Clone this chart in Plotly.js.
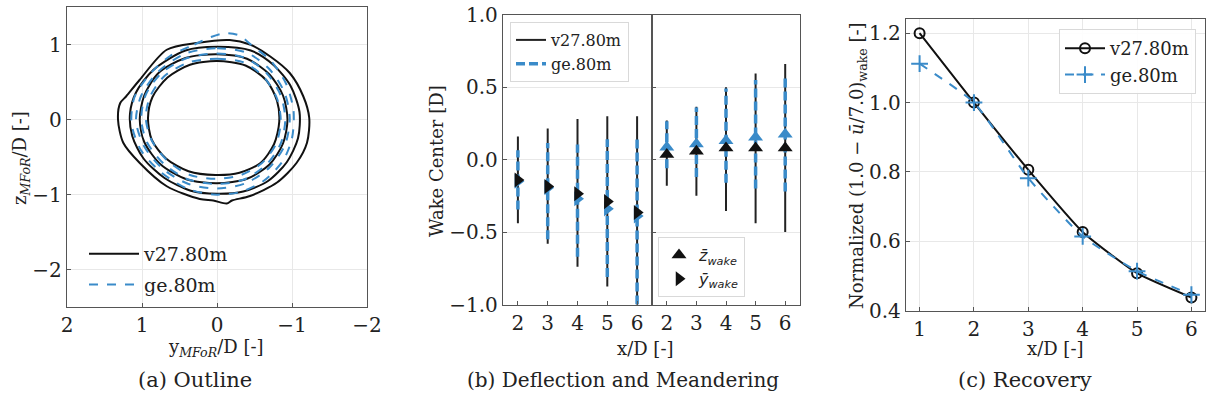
<!DOCTYPE html>
<html><head><meta charset="utf-8">
<script src="https://cdn.plot.ly/plotly-3.0.1.min.js"></script>
<style>html,body{margin:0;padding:0;background:#fff}#chart{width:1208px;height:405px}</style>
</head><body><div id="chart"></div>
<script>
// ---------- (a) Outline: wake contour points (y_MFoR/D, z_MFoR/D) ----------
const v27C1Y = [0.27,-0.17,-0.44,-0.71,-0.97,-1.15,-1.23,-1.20,-1.06,-0.80,-0.44,-0.20,-0.13,0.05,0.23,0.67,1.03,1.25,1.32,1.29,1.21,1.03,0.67];
const v27C1Z = [1.02,1.06,1.00,0.84,0.62,0.31,0.02,-0.31,-0.58,-0.84,-1.02,-1.08,-1.12,-1.08,-1.06,-0.89,-0.58,-0.31,0.00,0.22,0.31,0.53,0.93];
const v27C2Y = [0.42,0.00,-0.45,-0.75,-0.98,-1.10,-1.08,-0.93,-0.68,-0.35,0.00,0.35,0.70,0.98,1.13,1.16,1.08,0.85];
const v27C2Z = [0.92,0.97,0.92,0.73,0.45,0.10,-0.25,-0.57,-0.82,-0.96,-0.99,-0.95,-0.78,-0.52,-0.22,0.08,0.36,0.66];
const v27C3Y = [0.42,0.00,-0.40,-0.70,-0.88,-0.94,-0.88,-0.70,-0.40,0.00,0.40,0.75,0.97,1.03,0.97,0.78];
const v27C3Z = [0.82,0.87,0.81,0.60,0.32,0.00,-0.32,-0.60,-0.79,-0.85,-0.80,-0.60,-0.30,0.00,0.32,0.62];
const v27C4Y = [0.36,0.00,-0.38,-0.66,-0.80,-0.83,-0.76,-0.58,-0.30,0.02,0.38,0.68,0.87,0.92,0.86,0.66];
const v27C4Z = [0.73,0.78,0.72,0.52,0.25,-0.03,-0.33,-0.58,-0.71,-0.74,-0.69,-0.52,-0.27,0.02,0.30,0.56];
const geC1Y = [0.62,0.30,0.08,-0.10,-0.30,-0.45,-0.72,-0.92,-1.02,-1.00,-0.88,-0.62,-0.30,0.05,0.40,0.75,1.02,1.14,1.10,0.90];
const geC1Z = [0.85,1.00,1.10,1.15,1.12,1.00,0.78,0.48,0.12,-0.25,-0.55,-0.82,-0.97,-1.00,-0.92,-0.70,-0.40,-0.05,0.30,0.60];
const geC2Y = [0.42,0.00,-0.40,-0.70,-0.90,-0.97,-0.91,-0.70,-0.38,0.00,0.38,0.72,0.97,1.08,1.01,0.78];
const geC2Z = [0.88,0.95,0.89,0.67,0.36,0.02,-0.33,-0.64,-0.85,-0.92,-0.86,-0.66,-0.36,-0.02,0.32,0.64];
const geC3Y = [0.40,0.00,-0.38,-0.66,-0.85,-0.91,-0.85,-0.66,-0.36,0.00,0.38,0.70,0.93,1.01,0.95,0.74];
const geC3Z = [0.82,0.88,0.82,0.62,0.32,0.00,-0.32,-0.60,-0.80,-0.86,-0.80,-0.60,-0.31,0.00,0.33,0.62];
const geC4Y = [0.38,0.00,-0.36,-0.63,-0.80,-0.85,-0.79,-0.60,-0.32,0.02,0.36,0.66,0.87,0.95,0.89,0.70];
const geC4Z = [0.76,0.81,0.76,0.56,0.28,-0.02,-0.32,-0.58,-0.74,-0.79,-0.74,-0.55,-0.28,0.02,0.31,0.58];

// ---------- (b) Deflection and meandering ----------
const xD = [2,3,4,5,6];
// lateral (y) wake centre, with meandering extent
const v27Y    = [-0.14,-0.185,-0.235,-0.29,-0.365];
const v27YHi  = [0.16,0.215,0.28,0.30,0.30];
const v27YLo  = [-0.44,-0.58,-0.74,-0.875,-1.02];
const geY     = [-0.15,-0.195,-0.27,-0.34,-0.39];
const geYHi   = [0.065,0.115,0.105,0.14,0.14];
const geYLo   = [-0.345,-0.55,-0.67,-0.81,-1.0];
// vertical (z) wake centre
const v27Z    = [0.035,0.057,0.08,0.08,0.08];
const v27ZHi  = [0.27,0.365,0.50,0.595,0.66];
const v27ZLo  = [-0.18,-0.25,-0.355,-0.44,-0.50];
const geZ     = [0.085,0.108,0.13,0.155,0.175];
const geZHi   = [0.265,0.36,0.49,0.55,0.58];
const geZLo   = [-0.06,-0.12,-0.16,-0.20,-0.22];

// ---------- (c) Recovery ----------
const xRec = [1,2,3,4,5,6];
const v27Rec = [1.20,1.00,0.806,0.627,0.508,0.438];
const geRec  = [1.112,1.00,0.782,0.614,0.514,0.446];

const BLACK = '#111111';
const BLUE = '#3a8bc9';
const W = 1208, H = 405;
const fx = p => p / W;
const fy = p => 1 - p / H;
const close = a => a.concat([a[0]]);

function segs(xs, lo, hi) {
  const X = [], Y = [];
  xs.forEach((x, i) => { X.push(x, x, null); Y.push(lo[i], hi[i], null); });
  return {x: X, y: Y};
}

const traces = [];
// (a) contours
[[v27C1Y,v27C1Z],[v27C2Y,v27C2Z],[v27C3Y,v27C3Z],[v27C4Y,v27C4Z]].forEach((c, i) => {
  traces.push({type:'scatter', mode:'lines', x: close(c[0]), y: close(c[1]), xaxis:'x', yaxis:'y',
    line:{color:BLACK, width:2, shape:'spline', smoothing:0.8},
    name:'v27.80m', legend:'legend3', showlegend: i === 0, legendgroup:'av27'});
});
[[geC1Y,geC1Z],[geC2Y,geC2Z],[geC3Y,geC3Z],[geC4Y,geC4Z]].forEach((c, i) => {
  traces.push({type:'scatter', mode:'lines', x: close(c[0]), y: close(c[1]), xaxis:'x', yaxis:'y',
    line:{color:BLUE, width:2, dash:'dash', shape:'spline', smoothing:0.8},
    name:'ge.80m', legend:'legend3', showlegend: i === 0, legendgroup:'age'});
});

// (b) left: y_wake
let s = segs(xD, v27YLo, v27YHi);
traces.push({type:'scatter', mode:'lines', x:s.x, y:s.y, xaxis:'x2', yaxis:'y2',
  line:{color:'#222', width:2}, name:'v27.80m', legend:'legend', legendrank:1});
s = segs(xD, geYLo, geYHi);
traces.push({type:'scatter', mode:'lines', x:s.x, y:s.y, xaxis:'x2', yaxis:'y2',
  line:{color:BLUE, width:3.5, dash:'9px,4px'}, name:'ge.80m', legend:'legend', legendrank:2});
// (b) right: z_wake
s = segs(xD, v27ZLo, v27ZHi);
traces.push({type:'scatter', mode:'lines', x:s.x, y:s.y, xaxis:'x3', yaxis:'y3',
  line:{color:'#222', width:2}, showlegend:false});
s = segs(xD, geZLo, geZHi);
traces.push({type:'scatter', mode:'lines', x:s.x, y:s.y, xaxis:'x3', yaxis:'y3',
  line:{color:BLUE, width:3.5, dash:'9px,4px'}, showlegend:false});
// markers
traces.push({type:'scatter', mode:'markers', x:xD, y:geY, xaxis:'x2', yaxis:'y2',
  marker:{symbol:'triangle-right', size:13, color:BLUE}, showlegend:false});
traces.push({type:'scatter', mode:'markers', x:xD, y:geZ, xaxis:'x3', yaxis:'y3',
  marker:{symbol:'triangle-up', size:13, color:BLUE}, showlegend:false});
traces.push({type:'scatter', mode:'markers', x:xD, y:v27Z, xaxis:'x3', yaxis:'y3',
  marker:{symbol:'triangle-up', size:13, color:BLACK},
  name:'<i>z̄</i><sub><i>wake</i></sub>', legend:'legend2', legendrank:1});
traces.push({type:'scatter', mode:'markers', x:xD, y:v27Y, xaxis:'x2', yaxis:'y2',
  marker:{symbol:'triangle-right', size:13, color:BLACK},
  name:'<i>ȳ</i><sub><i>wake</i></sub>', legend:'legend2', legendrank:2});

// (c) recovery
traces.push({type:'scatter', mode:'lines+markers', x:xRec, y:v27Rec, xaxis:'x4', yaxis:'y4',
  line:{color:BLACK, width:2, shape:'spline', smoothing:0.5},
  marker:{symbol:'circle-open', size:10, color:BLACK, line:{width:2}},
  name:'v27.80m', legend:'legend4'});
traces.push({type:'scatter', mode:'lines+markers', x:xRec, y:geRec, xaxis:'x4', yaxis:'y4',
  line:{color:BLUE, width:2, dash:'dash', shape:'spline', smoothing:0.5},
  marker:{symbol:'cross-thin-open', size:12, color:BLUE, line:{width:2, color:BLUE}},
  name:'ge.80m', legend:'legend4'});

const TF = {family:'DejaVu Serif', size:20, color:'#222'};
const common = {showline:true, mirror:true, linecolor:'#555', linewidth:1.2, zeroline:false,
  ticks:'inside', ticklen:4, tickcolor:'#555', tickfont:TF, gridcolor:'#e8e8e8', gridwidth:1};

function ann(text, px, py, size, angle) {
  return {text:text, x:fx(px), y:fy(py), xref:'paper', yref:'paper', xanchor:'center', yanchor:'middle',
    textangle:angle || 0, showarrow:false, font:{family:'DejaVu Serif', size:size, color:'#222'}};
}

const layout = {
  width:W, height:H, margin:{l:0,r:0,t:0,b:0}, paper_bgcolor:'#fff', plot_bgcolor:'#fff',
  font:{family:'DejaVu Serif', color:'#222'},
  xaxis: Object.assign({}, common, {domain:[fx(67),fx(367)], range:[2,-2], tickvals:[2,1,0,-1,-2], anchor:'y', showgrid:true}),
  yaxis: Object.assign({}, common, {domain:[fy(307),fy(7)], range:[-2.5,1.5], tickvals:[1,0,-1,-2], anchor:'x', showgrid:true}),
  xaxis2: Object.assign({}, common, {domain:[fx(503),fx(652)], range:[1.5,6.5], tickvals:xD, anchor:'y2', showgrid:false}),
  yaxis2: Object.assign({}, common, {domain:[fy(304.5),fy(14.7)], range:[-1,1], tickvals:[-1,-0.5,0,0.5,1], tickformat:'.1f', anchor:'x2', showgrid:true}),
  xaxis3: Object.assign({}, common, {domain:[fx(652),fx(800)], range:[1.5,6.5], tickvals:xD, anchor:'y3', showgrid:false}),
  yaxis3: Object.assign({}, common, {domain:[fy(304.5),fy(14.7)], range:[-1,1], tickvals:[-1,-0.5,0,0.5,1], showticklabels:false, anchor:'x3', showgrid:true}),
  xaxis4: Object.assign({}, common, {domain:[fx(906),fx(1205)], range:[0.75,6.25], tickvals:xRec, anchor:'y4', showgrid:true}),
  yaxis4: Object.assign({}, common, {domain:[fy(310.7),fy(19.3)], range:[0.4,1.24], tickvals:[0.4,0.6,0.8,1.0,1.2], tickformat:'.1f', anchor:'x4', showgrid:true}),
  legend: {x:fx(510), y:fy(22), xanchor:'left', yanchor:'top', bgcolor:'rgba(255,255,255,0.9)', bordercolor:'#d9d9d9', borderwidth:1,
    font:{family:'DejaVu Serif', size:16, color:'#222'}, itemwidth:30, tracegroupgap:0},
  legend2: {x:fx(658), y:fy(237), xanchor:'left', yanchor:'top', bgcolor:'rgba(255,255,255,0.9)', bordercolor:'#d9d9d9', borderwidth:1,
    font:{family:'DejaVu Sans', size:16, color:'#222'}, itemwidth:30, tracegroupgap:0},
  legend3: {x:fx(84), y:fy(235), xanchor:'left', yanchor:'top', bgcolor:'rgba(255,255,255,0)', borderwidth:0,
    font:{family:'DejaVu Serif', size:19, color:'#222'}, itemwidth:50, tracegroupgap:3},
  legend4: {x:fx(1059), y:fy(29), xanchor:'left', yanchor:'top', bgcolor:'rgba(255,255,255,0.9)', bordercolor:'#d9d9d9', borderwidth:1,
    font:{family:'DejaVu Serif', size:18, color:'#222'}, itemwidth:40, tracegroupgap:0},
  annotations: [
    ann('z<sub><i>MFoR</i></sub>/D [-]', 21, 158, 18, -90),
    ann('y<sub><i>MFoR</i></sub>/D [-]', 216, 348, 18),
    ann('Wake Center [D]', 437, 161, 18, -90),
    ann('x/D [-]', 645, 348, 18),
    ann('Normalized (1.0 − <i>ū</i>/7.0)<sub>wake</sub> [-]', 858, 166, 18, -90),
    ann('x/D [-]', 1055, 348, 18),
    ann('(a) Outline', 195, 380, 21),
    ann('(b) Deflection and Meandering', 623, 380, 20),
    ann('(c) Recovery', 1025, 380, 21)
  ]
};

Plotly.newPlot('chart', traces, layout, {displayModeBar:false, staticPlot:true});
</script></body></html>
